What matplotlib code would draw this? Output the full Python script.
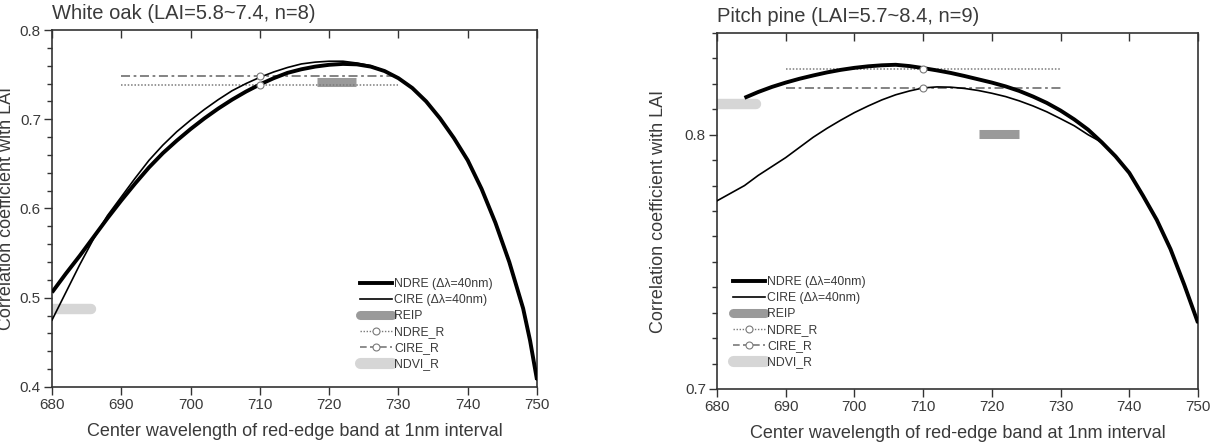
import numpy as np
import matplotlib
matplotlib.use("Agg")
import matplotlib.pyplot as plt
from matplotlib.lines import Line2D
from matplotlib.ticker import MultipleLocator

plt.rcParams['font.family'] = ['Liberation Sans', 'DejaVu Sans']

# ---- White oak (left panel) ----
oak_wl = [680, 682, 684, 686, 688, 690, 692, 694, 696, 698, 700, 702, 704, 706, 708,
          710, 712, 714, 716, 718, 720, 722, 724, 726, 728, 730, 732, 734, 736, 738,
          740, 742, 744, 746, 748, 749, 750]
oak_ndre = [0.506, 0.527, 0.547, 0.568, 0.589, 0.609, 0.628, 0.646, 0.662, 0.676,
            0.689, 0.701, 0.712, 0.722, 0.731, 0.739, 0.746, 0.752, 0.756, 0.759,
            0.761, 0.762, 0.7615, 0.759, 0.754, 0.746, 0.735, 0.720, 0.701, 0.679,
            0.654, 0.622, 0.584, 0.540, 0.488, 0.452, 0.408]
oak_cire_wl = [680, 682, 684, 686, 688, 690, 692, 694, 696, 698, 700, 702, 704, 706,
               708, 710, 712, 714, 716, 718, 720, 722, 724, 726, 728, 730]
oak_cire = [0.475, 0.506, 0.537, 0.566, 0.592, 0.613, 0.634, 0.654, 0.671, 0.686,
            0.699, 0.711, 0.722, 0.732, 0.740, 0.747, 0.753, 0.758, 0.762, 0.764,
            0.765, 0.765, 0.763, 0.760, 0.754, 0.746]
oak_ndre_r = 0.738
oak_cire_r = 0.748
oak_reip = (718.2, 723.9, 0.742)
oak_ndvi_r = (680, 685.6, 0.487)

# ---- Pitch pine (right panel) ----
pine_wl = [684, 686, 688, 690, 692, 694, 696, 698, 700, 702, 704, 706, 708, 710, 712,
           714, 716, 718, 720, 722, 724, 726, 728, 730, 732, 734, 736, 738, 740, 742,
           744, 746, 748, 750]
pine_ndre = [0.8145, 0.8168, 0.8188, 0.8205, 0.8220, 0.8233, 0.8245, 0.8255, 0.8263,
             0.8269, 0.8273, 0.8275, 0.8270, 0.8262, 0.8253, 0.8243, 0.8231, 0.8218,
             0.8205, 0.8190, 0.8172, 0.8150, 0.8125, 0.8095, 0.8060, 0.8020, 0.7970,
             0.7915, 0.7850, 0.7760, 0.7665, 0.7550, 0.7410, 0.7260]
pine_cire_wl = [680, 682, 684, 686, 688, 690, 692, 694, 696, 698, 700, 702, 704, 706,
                708, 710, 712, 714, 716, 718, 720, 722, 724, 726, 728, 730, 732, 734,
                736]
pine_cire = [0.774, 0.777, 0.780, 0.784, 0.7875, 0.791, 0.795, 0.799, 0.8025, 0.8057,
             0.8087, 0.8113, 0.8137, 0.8157, 0.8172, 0.8184, 0.8188, 0.8187, 0.8182,
             0.8174, 0.8163, 0.8150, 0.8133, 0.8113, 0.8090, 0.8063, 0.8035, 0.8000,
             0.7970]
pine_ndre_r = 0.8259
pine_cire_r = 0.8184
pine_reip = (718.2, 723.9, 0.8004)
pine_ndvi_r = (680, 685.7, 0.8122)

ref_span = (690, 730)
ref_wl = 710

titles = ["White oak (LAI=5.8~7.4, n=8)", "Pitch pine (LAI=5.7~8.4, n=9)"]
xlabel = "Center wavelength of red-edge band at 1nm interval"
ylabel = "Correlation coefficient with LAI"
legend_labels = ["NDRE (\u0394\u03bb=40nm)", "CIRE (\u0394\u03bb=40nm)", "REIP",
                 "NDRE_R", "CIRE_R", "NDVI_R"]

TXT = '#3a3a3a'
C_REIP = '#9a9a9a'
C_NDVI = '#d6d6d6'
C_REF = '#7a7a7a'

fig = plt.figure(figsize=(12.16, 4.45), dpi=100)
ax1 = fig.add_axes([52/1216, 1-387/445, 485/1216, 357/445])
ax2 = fig.add_axes([717/1216, 1-389/445, 481/1216, 356/445])


def draw(ax, wl, ndre, cwl, cire, ndre_r, cire_r, reip, ndvi):
    ax.plot(wl, ndre, color='black', lw=2.8, solid_capstyle='butt',
            solid_joinstyle='round', zorder=4)
    # CIRE continues along NDRE after they merge
    cw = list(cwl) + [w for w in wl if w > cwl[-1]]
    cv = list(cire) + [v for w, v in zip(wl, ndre) if w > cwl[-1]]
    ax.plot(cw, cv, color='black', lw=1.2, solid_joinstyle='round', zorder=4)
    ax.plot(ref_span, [ndre_r, ndre_r], color=C_REF, lw=1.1, ls=(0, (1, 1.2)), zorder=3)
    ax.plot(ref_span, [cire_r, cire_r], color=C_REF, lw=1.3, ls=(0, (5, 2, 1.5, 2)), zorder=3)
    ax.plot([ref_wl], [ndre_r], 'o', ms=5, mfc='white', mec=C_REF, mew=0.8, zorder=5)
    ax.plot([ref_wl], [cire_r], 'o', ms=5, mfc='white', mec=C_REF, mew=0.8, zorder=5)
    ax.plot(reip[:2], [reip[2]] * 2, color=C_REIP, lw=6.5, solid_capstyle='butt', zorder=2)
    ax.plot(ndvi[:2], [ndvi[2]] * 2, color=C_NDVI, lw=7.5, solid_capstyle='round', zorder=2)


draw(ax1, oak_wl, oak_ndre, oak_cire_wl, oak_cire, oak_ndre_r, oak_cire_r, oak_reip, oak_ndvi_r)
draw(ax2, pine_wl, pine_ndre, pine_cire_wl, pine_cire, pine_ndre_r, pine_cire_r, pine_reip, pine_ndvi_r)

ax1.set_ylim(0.4, 0.8)
ax1.yaxis.set_major_locator(MultipleLocator(0.1))
ax1.yaxis.set_minor_locator(MultipleLocator(0.02))
ax2.set_ylim(0.7, 0.84)
ax2.yaxis.set_major_locator(MultipleLocator(0.1))
ax2.yaxis.set_minor_locator(MultipleLocator(0.01))

handles = [
    Line2D([], [], color='black', lw=2.8),
    Line2D([], [], color='black', lw=1.2),
    Line2D([], [], color=C_REIP, lw=6.5, solid_capstyle='round'),
    Line2D([], [], color=C_REF, lw=1.0, ls=(0, (1, 1.2)), marker='o', ms=5,
           mfc='white', mec=C_REF, mew=0.8),
    Line2D([], [], color=C_REF, lw=1.2, ls=(0, (4, 2)), marker='o', ms=5,
           mfc='white', mec=C_REF, mew=0.8),
    Line2D([], [], color=C_NDVI, lw=8, solid_capstyle='round'),
]

for ax, title, lx, ly, labx in [(ax1, titles[0], 0.635, 0.305, -0.076),
                                  (ax2, titles[1], 0.033, 0.318, -0.104)]:
    ax.set_xlim(680, 750)
    ax.xaxis.set_major_locator(MultipleLocator(10))
    ax.set_title(title, loc='left', fontsize=14.5, color=TXT, pad=8)
    ax.set_xlabel(xlabel, fontsize=13, color=TXT, labelpad=8)
    ax.set_ylabel(ylabel, fontsize=13, color=TXT)
    ax.yaxis.set_label_coords(labx, 0.5)
    ax.tick_params(axis='both', which='major', labelsize=11, labelcolor=TXT,
                   color='#333333', length=5.5, width=1, pad=2.5)
    ax.tick_params(axis='y', which='minor', color='#333333', length=3.5, width=1)
    ax.tick_params(axis='x', top=True, direction='out')
    for sp in ax.spines.values():
        sp.set_color('#333333')
        sp.set_linewidth(1.2)
    # top ticks point inward
    for t in ax.xaxis.get_major_ticks():
        t.tick2line.set_marker(matplotlib.lines.TICKDOWN)
    ax.legend(handles, legend_labels, loc='upper left', bbox_to_anchor=(lx, ly),
              frameon=False, fontsize=8.8, labelcolor=TXT, handlelength=2.6,
              handletextpad=0.2, labelspacing=0.33, borderpad=0, borderaxespad=0)

fig.savefig('out.png', dpi=100)
